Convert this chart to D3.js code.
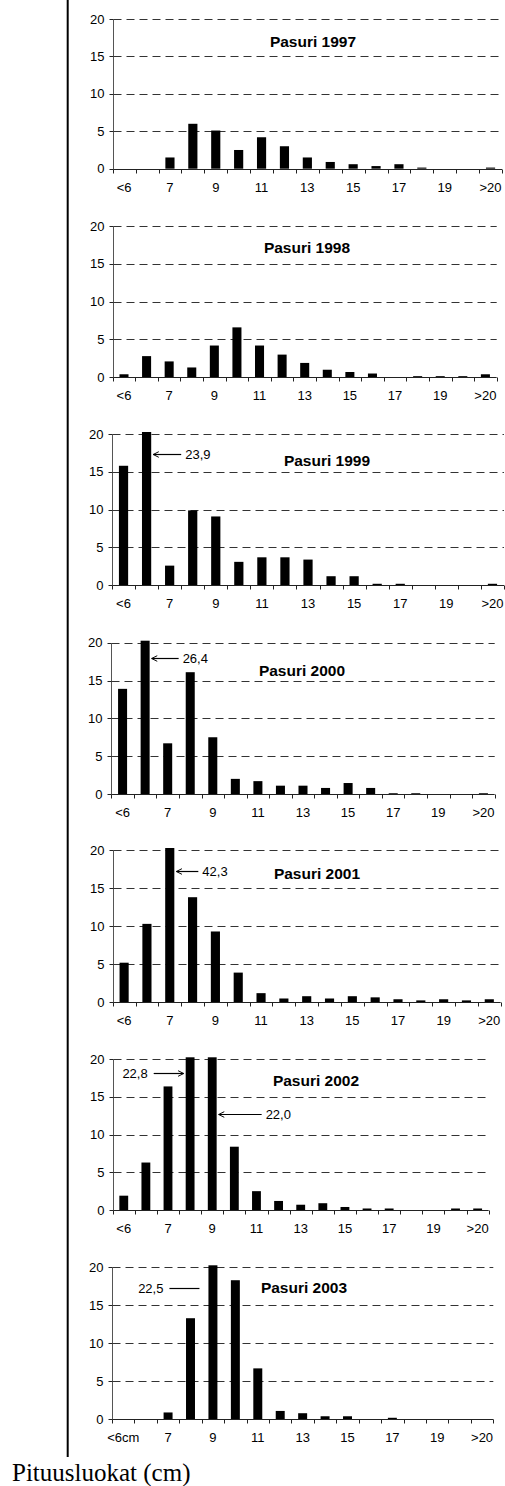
<!DOCTYPE html>
<html>
<head>
<meta charset="utf-8">
<script src="https://cdn.jsdelivr.net/npm/d3@7"></script>
<style>
    body { margin: 0; background: #fff; }
    svg { display: block; }
    .tick-label { font-family: "Liberation Sans", Arial, sans-serif; font-size: 13px; fill: #000; }
    .panel-title { font-family: "Liberation Sans", Arial, sans-serif; font-size: 15.5px; font-weight: bold; fill: #000; }
    .note { font-family: "Liberation Sans", Arial, sans-serif; font-size: 13px; fill: #000; }
    .x-title { font-family: "Liberation Serif", "Times New Roman", serif; font-size: 25px; fill: #000; }
</style>
</head>
<body>
<svg id="chart" width="505" height="1486"></svg>
<script>
// ------------------ DATA ------------------

// length classes (cm)
let categories = ["<6", "6", "7", "8", "9", "10", "11", "12", "13", "14", "15", "16", "17", "18", "19", "20", ">20"];
let yTicks = [0, 5, 10, 15, 20];
let years = [1997, 1998, 1999, 2000, 2001, 2002, 2003];

// share of catch (%) per length class
let pasuri1997 = [0, 0, 1.5, 6.0, 5.1, 2.5, 4.2, 3.0, 1.5, 0.9, 0.6, 0.35, 0.6, 0.15, 0, 0, 0.15];
let pasuri1998 = [0.4, 2.8, 2.1, 1.3, 4.2, 6.6, 4.2, 3.0, 1.9, 1.0, 0.7, 0.5, 0, 0.15, 0.15, 0.15, 0.4];
let pasuri1999 = [15.8, 23.9, 2.6, 9.9, 9.1, 3.1, 3.7, 3.7, 3.4, 1.2, 1.2, 0.2, 0.2, 0, 0, 0, 0.2];
let pasuri2000 = [13.9, 26.4, 6.7, 16.1, 7.5, 2.0, 1.7, 1.1, 1.1, 0.8, 1.45, 0.8, 0.1, 0.1, 0, 0, 0.1];
let pasuri2001 = [5.2, 10.3, 42.3, 13.8, 9.3, 3.9, 1.2, 0.5, 0.8, 0.5, 0.8, 0.65, 0.4, 0.25, 0.4, 0.25, 0.4];
let pasuri2002 = [1.9, 6.3, 16.4, 22.8, 22.0, 8.4, 2.5, 1.2, 0.7, 0.9, 0.4, 0.2, 0.2, 0, 0, 0.2, 0.2];
let pasuri2003 = [0, 0, 0.9, 13.3, 22.5, 18.3, 6.7, 1.1, 0.8, 0.4, 0.4, 0, 0.2, 0, 0, 0, 0];

let series = [pasuri1997, pasuri1998, pasuri1999, pasuri2000, pasuri2001, pasuri2002, pasuri2003];

// ------------------ LAYOUT ------------------

let svg = d3.select("#chart");
let yMax = 20;

// plot box of every panel: left, right, top (value 20), bottom (value 0), title centre
let panels = [
    { x0: 112.7, x1: 502, yTop: 19, yBot: 168.7, tx: 313, ty: 41 },
    { x0: 112.7, x1: 496.7, yTop: 226, yBot: 377.3, tx: 307, ty: 247 },
    { x0: 112, x1: 504, yTop: 434, yBot: 585.3, tx: 327, ty: 460 },
    { x0: 111.3, x1: 494.7, yTop: 642.7, yBot: 794, tx: 302, ty: 670 },
    { x0: 112.7, x1: 500.7, yTop: 850, yBot: 1002.3, tx: 317, ty: 873 },
    { x0: 112.7, x1: 488.7, yTop: 1059.3, yBot: 1210, tx: 316, ty: 1080 },
    { x0: 112, x1: 493.3, yTop: 1267.3, yBot: 1419.3, tx: 304, ty: 1287 }
];

// call-outs for bars cut off at 20: arrow height (y value), length, direction
let notes = [
    { panel: 2, cat: 1, at: 17.4, side: "right", len: 28, head: true },
    { panel: 3, cat: 1, at: 18.0, side: "right", len: 27, head: true },
    { panel: 4, cat: 2, at: 17.2, side: "right", len: 22, head: true },
    { panel: 5, cat: 3, at: 18.2, side: "left", len: 30, head: true },
    { panel: 5, cat: 4, at: 12.7, side: "right", len: 43, head: true },
    { panel: 6, cat: 4, at: 17.3, side: "left", len: 30, gap: 9, head: false }
];

function fmt(v) {
    return d3.format(".1f")(v).replace(".", ",");
}

function crisp(v) {
    return Math.round(v) + 0.5;
}

// ------------------ DRAWING ------------------

svg.append("defs").append("marker")
    .attr("id", "arrow")
    .attr("viewBox", "0 0 10 10")
    .attr("refX", 9)
    .attr("refY", 5)
    .attr("markerWidth", 7)
    .attr("markerHeight", 7)
    .attr("markerUnits", "userSpaceOnUse")
    .attr("orient", "auto")
    .append("path")
    .attr("d", "M1,1 L9,5 L1,9")
    .attr("fill", "none")
    .attr("stroke", "#000")
    .attr("stroke-width", 1.4);

// black rule on the left
svg.append("line")
    .attr("x1", 67.7).attr("x2", 67.7)
    .attr("y1", 0).attr("y2", 1457)
    .attr("stroke", "#000")
    .attr("stroke-width", 2);

function buildPanel(i) {
    let p = panels[i];
    let data = series[i];

    let x = d3.scaleBand()
        .domain(categories)
        .range([p.x0, p.x1])
        .paddingInner(0.6)
        .paddingOuter(0.3);

    let y = d3.scaleLinear()
        .domain([0, yMax])
        .range([p.yBot, p.yTop]);

    let g = svg.append("g").attr("class", "panel");
    let ax = crisp(p.x0);
    let ay = crisp(p.yBot);

    // dashed gridlines
    g.append("g")
        .selectAll("line")
        .data(yTicks.filter(d => d > 0))
        .enter().append("line")
        .attr("x1", ax)
        .attr("x2", p.x1)
        .attr("y1", d => crisp(y(d)))
        .attr("y2", d => crisp(y(d)))
        .attr("stroke", "#333")
        .attr("stroke-dasharray", "8,5");

    // y axis
    g.append("line")
        .attr("x1", ax).attr("x2", ax)
        .attr("y1", crisp(y(yMax))).attr("y2", ay)
        .attr("stroke", "#555");
    g.append("g")
        .selectAll("line")
        .data(yTicks)
        .enter().append("line")
        .attr("x1", ax - 4).attr("x2", ax)
        .attr("y1", d => crisp(y(d)))
        .attr("y2", d => crisp(y(d)))
        .attr("stroke", "#222");
    g.append("g")
        .selectAll("text")
        .data(yTicks)
        .enter().append("text")
        .attr("class", "tick-label")
        .attr("text-anchor", "end")
        .attr("x", ax - 9)
        .attr("y", d => y(d) + 4.5)
        .text(d => d);

    // bars, cut at the top of the plot box
    let clipTop = y(yMax) - 2;
    g.append("g")
        .selectAll("rect")
        .data(data)
        .enter().append("rect")
        .attr("x", (d, k) => x(categories[k]))
        .attr("width", x.bandwidth())
        .attr("y", d => Math.max(y(d), clipTop))
        .attr("height", d => p.yBot - Math.max(y(d), clipTop))
        .attr("fill", "#000");

    // x axis with ticks between classes
    let bounds = d3.range(categories.length + 1).map(k => crisp(p.x0 + k * (p.x1 - p.x0) / categories.length));
    g.append("line")
        .attr("x1", ax).attr("x2", p.x1)
        .attr("y1", ay).attr("y2", ay)
        .attr("stroke", "#222");
    g.append("g")
        .selectAll("line")
        .data(bounds)
        .enter().append("line")
        .attr("x1", d => d).attr("x2", d => d)
        .attr("y1", ay).attr("y2", ay + 4)
        .attr("stroke", "#222");

    g.append("g")
        .selectAll("text")
        .data(categories.filter((c, k) => k % 2 == 0))
        .enter().append("text")
        .attr("class", "tick-label")
        .attr("text-anchor", "middle")
        .attr("x", d => x(d) + x.bandwidth() / 2)
        .attr("y", p.yBot + 23)
        .text(d => (i == panels.length - 1 && d == "<6") ? "<6cm" : d);

    g.append("text")
        .attr("class", "panel-title")
        .attr("text-anchor", "middle")
        .attr("x", p.tx)
        .attr("y", p.ty + 5.5)
        .text("Pasuri " + years[i]);

    // call-outs for the clipped bars
    notes.filter(n => n.panel == i).forEach(n => {
        let cat = categories[n.cat];
        let yy = crisp(y(n.at));
        let gap = n.gap || 2;
        let tip, tail, tx, anchor;
        if (n.side == "right") {
            tip = x(cat) + x.bandwidth() + gap;
            tail = tip + n.len;
            tx = tail + 4;
            anchor = "start";
        } else {
            tip = x(cat) - gap;
            tail = tip - n.len;
            tx = tail - 6;
            anchor = "end";
        }
        g.append("line")
            .attr("x1", tail).attr("x2", tip)
            .attr("y1", yy).attr("y2", yy)
            .attr("stroke", "#000")
            .attr("stroke-width", 1.2)
            .attr("marker-end", n.head ? "url(#arrow)" : null);
        g.append("text")
            .attr("class", "note")
            .attr("text-anchor", anchor)
            .attr("x", tx)
            .attr("y", yy + 4)
            .text(fmt(data[n.cat]));
    });
}

for (let i = 0; i < panels.length; i++) {
    buildPanel(i);
}

svg.append("text")
    .attr("class", "x-title")
    .attr("x", 12)
    .attr("y", 1481)
    .text("Pituusluokat (cm)");
</script>
</body>
</html>
